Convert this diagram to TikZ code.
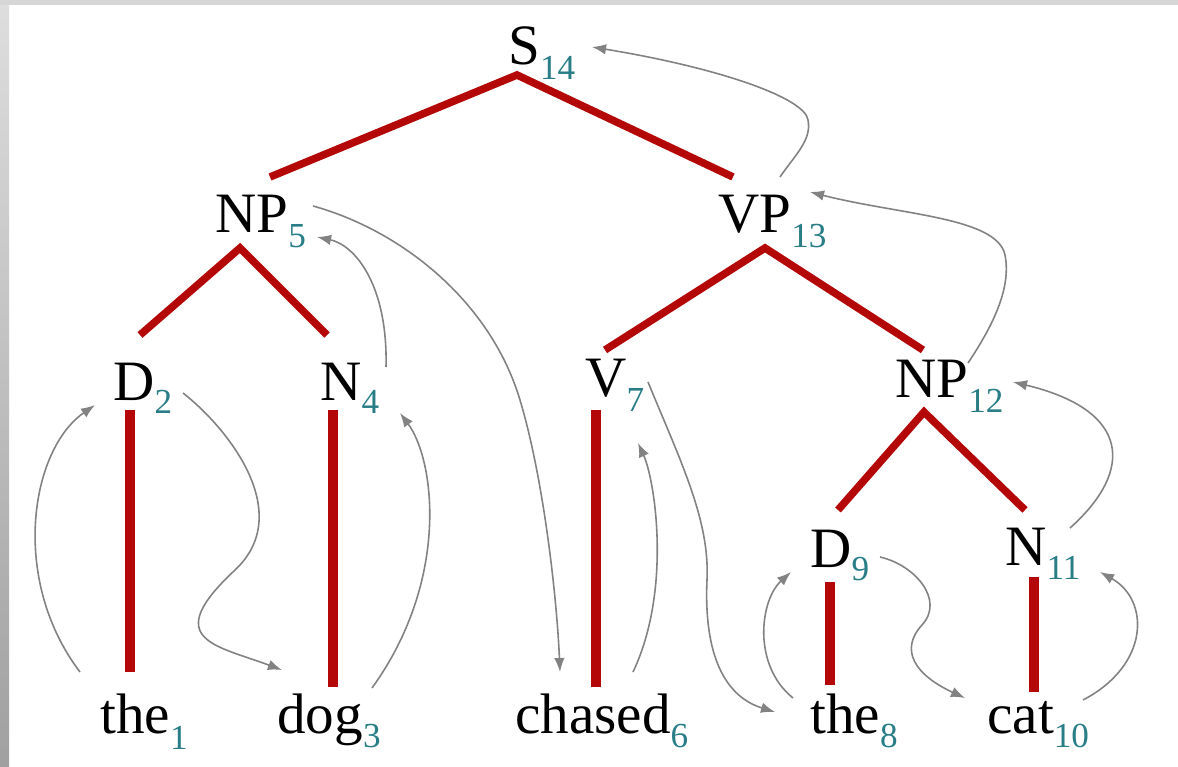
\documentclass[tikz,border=0pt]{standalone}
\usepackage{fontspec}
\setmainfont{Liberation Serif}
\usetikzlibrary{calc,arrows.meta}
\definecolor{treered}{RGB}{180,8,8}
\definecolor{subteal}{RGB}{40,125,135}
\definecolor{arrgray}{RGB}{130,130,130}
\definecolor{striplight}{RGB}{222,222,222}
\definecolor{stripdark}{RGB}{160,160,160}
\definecolor{striptop}{RGB}{214,214,214}
% subscript: lowering, digits
\newcommand{\sbs}[2]{\raisebox{-#1}{\fontsize{20}{20}\selectfont\color{subteal}#2}}
\begin{document}
\begin{tikzpicture}[x=0.02cm,y=-0.02cm,
  lbl/.style={anchor=base west,inner sep=0pt,font=\fontsize{32.5}{38}\selectfont},
  trbranch/.style={draw=treered,line width=4.3pt},
  trstem/.style={draw=treered,line width=5.5pt},
  mvarrow/.style={draw=arrgray,line width=0.9pt,-{Latex[length=8pt,width=6pt]}}]
% background and frame strips
\fill[white] (0,0) rectangle (1178,767);
\path[use as bounding box] (0,0) rectangle (1178,767);
\shade[top color=striplight,bottom color=stripdark] (0,0) rectangle (9,767);
\fill[striptop] (0,0) rectangle (1178,5);
% labels
\node[lbl] (s14) at (508,65) {S\sbs{8pt}{14}};
\node[lbl] (np5) at (215,233) {NP\sbs{8pt}{5}};
\node[lbl] (vp13) at (718,233) {VP\sbs{8pt}{13}};
\node[lbl] (d2) at (113,400) {D\sbs{7.6pt}{2}};
\node[lbl] (n4) at (320,400) {N\sbs{7.6pt}{4}};
\node[lbl] (v7) at (585,397) {V\sbs{8.5pt}{7}};
\node[lbl] (np12) at (895,398) {NP\sbs{8pt}{12}};
\node[lbl] (d9) at (810,567) {D\sbs{7.6pt}{9}};
\node[lbl] (n11) at (1005,565) {N\sbs{8.5pt}{11}};
\node[lbl] (the1) at (100,733) {the\sbs{9.5pt}{1}};
\node[lbl] (dog3) at (277,733) {dog\sbs{8.5pt}{3}};
\node[lbl] (chased6) at (515,733) {chased\sbs{8.5pt}{6}};
\node[lbl] (the8) at (810,733) {the\sbs{8.5pt}{8}};
\node[lbl] (cat10) at (987,733) {cat\sbs{8.5pt}{10}};
% tree branches
\draw[trbranch] ($(np5.base west)+(55,-56)$) -- ($(s14.base west)+(9,10)$) -- ($(vp13.base west)+(15,-56)$);
\draw[trbranch] ($(d2.base west)+(27,-65)$) -- ($(np5.base west)+(25,15)$) -- ($(n4.base west)+(7,-65)$);
\draw[trbranch] ($(v7.base west)+(20,-47)$) -- ($(vp13.base west)+(47,15)$) -- ($(np12.base west)+(28,-48)$);
\draw[trbranch] ($(d9.base west)+(28,-57)$) -- ($(np12.base west)+(29,14)$) -- ($(n11.base west)+(20,-55)$);
\draw[trstem] ($(d2.base west)+(17,10)$) -- ($(the1.base west)+(30,-61)$);
\draw[trstem] ($(n4.base west)+(13,10)$) -- ($(dog3.base west)+(56,-46)$);
\draw[trstem] ($(v7.base west)+(11,13)$) -- ($(chased6.base west)+(81,-46)$);
\draw[trstem] ($(d9.base west)+(20,15)$) -- ($(the8.base west)+(20,-48)$);
\draw[trstem] ($(n11.base west)+(29,12)$) -- ($(cat10.base west)+(47,-41)$);
% movement arrows
\draw[mvarrow] ($(the1.base west)+(-20,-61)$) .. controls (10,580) and (30,450) .. ($(d2.base west)+(-18,5)$);
\draw[mvarrow] ($(d2.base west)+(70,-7)$) .. controls (230,430) and (295,514) .. (235,570) .. controls (160,640) and (215,645) .. ($(dog3.base west)+(5,-63)$);
\draw[mvarrow] ($(dog3.base west)+(95,-45)$) .. controls (450,580) and (435,460) .. ($(n4.base west)+(80,13)$);
\draw[mvarrow] ($(n4.base west)+(66,-33)$) .. controls (388,285) and (355,245) .. ($(np5.base west)+(102,4)$);
\draw[mvarrow] ($(np5.base west)+(98,-27)$) .. controls (400,230) and (490,300) .. (520,400) .. controls (544,480) and (557,600) .. ($(chased6.base west)+(45,-61)$);
\draw[mvarrow] ($(chased6.base west)+(118,-61)$) .. controls (672,590) and (655,480) .. ($(v7.base west)+(53,46)$);
\draw[mvarrow] ($(v7.base west)+(63,-15)$) .. controls (680,460) and (710,520) .. (707,580) .. controls (704,646) and (720,695) .. ($(the8.base west)+(-35,-21)$);
\draw[mvarrow] ($(the8.base west)+(-17,-35)$) .. controls (752,665) and (760,600) .. ($(d9.base west)+(-19,5)$);
\draw[mvarrow] ($(d9.base west)+(70,-10)$) .. controls (915,565) and (945,600) .. (922,625) .. controls (899,650) and (915,675) .. ($(cat10.base west)+(-22,-35)$);
\draw[mvarrow] ($(cat10.base west)+(96,-33)$) .. controls (1150,665) and (1150,600) .. ($(n11.base west)+(95,7)$);
\draw[mvarrow] ($(n11.base west)+(65,-37)$) .. controls (1135,470) and (1130,410) .. ($(np12.base west)+(118,-16)$);
\draw[mvarrow] ($(np12.base west)+(73,-35)$) .. controls (990,330) and (1012,290) .. (1005,255) .. controls (997,217) and (900,215) .. ($(vp13.base west)+(92,-41)$);
\draw[mvarrow] ($(vp13.base west)+(62,-56)$) .. controls (795,155) and (812,140) .. (808,120) .. controls (805,98) and (720,68) .. ($(s14.base west)+(84,-18)$);
\end{tikzpicture}
\end{document}
